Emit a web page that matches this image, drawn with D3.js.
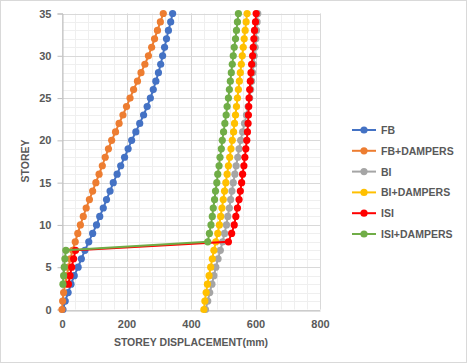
<!DOCTYPE html>
<html lang="en">
<head>
<meta charset="UTF-8">
<title>Storey displacement</title>
<script src="https://d3js.org/d3.v7.min.js"></script>
<style>
    body { margin: 0; background: #fff; }
    svg { font-family: "Liberation Sans", Arial, sans-serif; }
</style>
</head>
<body>
<div id="chart"></div>
<script>
    const width = 468;
    const height = 364;

    // storey numbers 0..35
    const storeys = d3.range(0, 36);

    const seriesNames = ["FB", "FB+DAMPERS", "BI", "BI+DAMPERS", "ISI", "ISI+DAMPERS"];
    const seriesColors = ["#4472C4", "#ED7D31", "#A5A5A5", "#FFC000", "#FF0000", "#70AD47"];

    // displacement (mm) per storey
    const fb = [3, 10, 19, 28, 38, 50, 60, 71, 83, 95, 107, 117, 128, 138, 149, 159, 171, 182, 194, 205,
        216, 229, 241, 253, 264, 274, 283, 291, 299, 306, 312, 318, 324, 330, 337, 343];
    const fbDampers = [0, 2, 5, 10, 15, 20, 26, 33, 41, 49, 57, 66, 75, 85, 95, 105, 115, 125, 134, 144,
        154, 166, 177, 189, 200, 211, 222, 234, 245, 257, 268, 278, 287, 296, 305, 314];
    const bi = [445, 452, 458, 465, 471, 477, 484, 491, 498, 504, 510, 514, 519, 523, 527, 531, 536, 540, 545, 549,
        554, 560, 566, 572, 577, 582, 585, 588, 591, 594, 596, 599, 601, 603, 605, 607];
    const biDampers = [440, 443, 447, 451, 456, 461, 466, 471, 477, 483, 488, 492, 496, 500, 504, 508, 512, 516, 520, 524,
        528, 532, 535, 538, 541, 544, 547, 550, 553, 556, 559, 562, 565, 568, 571, 574];
    const isi = [null, null, null, 20, 25, 30, 36, 42, 516, 526, 534, 539, 544, 549, 553, 557, 560, 564, 567, 570,
        573, 575, 577, 578, 579, 580, 582, 584, 586, 588, 591, 593, 595, 597, 600, 602];
    const isiDampers = [null, null, null, 3, 5, 7, 9, 12, 452, 457, 462, 466, 469, 473, 476, 480, 483, 487, 490, 494,
        497, 501, 505, 509, 512, 516, 519, 522, 525, 528, 531, 534, 538, 541, 544, 547];

    const xTicks = [0, 200, 400, 600, 800];
    const yTicks = [0, 5, 10, 15, 20, 25, 30, 35];

    const allSeries = [fb, fbDampers, bi, biDampers, isi, isiDampers];

    const svg = d3.select("#chart")
        .append("svg")
        .attr("width", width)
        .attr("height", height);

    // outer chart border
    svg.append("rect")
        .attr("x", 0.5).attr("y", 0.5)
        .attr("width", width - 2).attr("height", height - 2)
        .attr("fill", "#fff")
        .attr("stroke", "#d9d9d9");

    const x = d3.scaleLinear().domain([0, 800]).range([62, 320]);
    const y = d3.scaleLinear().domain([0, 35]).range([309.5, 13.5]);

    // minor gridlines
    const grid = svg.append("g");
    grid.selectAll(".vminor")
        .data(d3.range(0, 801, 40))
        .enter().append("line")
        .attr("x1", d => Math.round(x(d)) + 0.5).attr("x2", d => Math.round(x(d)) + 0.5)
        .attr("y1", y(35)).attr("y2", y(0))
        .attr("stroke", "#efefef");
    grid.selectAll(".hminor")
        .data(d3.range(0, 36, 1))
        .enter().append("line")
        .attr("y1", d => Math.round(y(d)) + 0.5).attr("y2", d => Math.round(y(d)) + 0.5)
        .attr("x1", x(0)).attr("x2", x(800))
        .attr("stroke", "#efefef");

    // major gridlines
    grid.selectAll(".vmajor")
        .data(xTicks)
        .enter().append("line")
        .attr("x1", d => Math.round(x(d)) + 0.5).attr("x2", d => Math.round(x(d)) + 0.5)
        .attr("y1", y(35)).attr("y2", y(0))
        .attr("stroke", "#d9d9d9");
    grid.selectAll(".hmajor")
        .data(yTicks)
        .enter().append("line")
        .attr("y1", d => Math.round(y(d)) + 0.5).attr("y2", d => Math.round(y(d)) + 0.5)
        .attr("x1", x(0)).attr("x2", x(800))
        .attr("stroke", "#d9d9d9");

    // axes
    const xAxis = svg.append("g")
        .attr("transform", `translate(0,${Math.round(y(0)) + 0.5})`)
        .call(d3.axisBottom(x).tickValues(xTicks).tickSize(0).tickPadding(10));
    const yAxis = svg.append("g")
        .attr("transform", `translate(${Math.round(x(0)) + 0.5},0)`)
        .call(d3.axisLeft(y).tickValues(yTicks).tickSize(5).tickPadding(6));

    [xAxis, yAxis].forEach(a => {
        a.select(".domain").attr("stroke", "#bfbfbf");
        a.selectAll(".tick line").attr("stroke", "#bfbfbf");
        a.selectAll("text")
            .attr("fill", "#595959")
            .attr("font-size", 11)
            .attr("font-weight", "bold")
            .attr("font-family", "'Liberation Sans', Arial, sans-serif");
    });

    // axis titles
    svg.append("text")
        .attr("x", 191).attr("y", 346)
        .attr("text-anchor", "middle")
        .attr("font-size", 10.5).attr("font-weight", "bold")
        .attr("fill", "#595959")
        .text("STOREY DISPLACEMENT(mm)");
    svg.append("text")
        .attr("transform", "translate(29,161) rotate(-90)")
        .attr("text-anchor", "middle")
        .attr("font-size", 10.5).attr("font-weight", "bold")
        .attr("fill", "#595959")
        .text("STOREY");

    // series
    const line = d3.line()
        .defined(d => d.v !== null)
        .x(d => x(d.v))
        .y(d => y(d.s));

    allSeries.forEach((vals, i) => {
        const pts = storeys.map((s, k) => ({ s: s, v: vals[k] }));
        const g = svg.append("g");
        g.append("path")
            .datum(pts)
            .attr("d", line)
            .attr("fill", "none")
            .attr("stroke", seriesColors[i])
            .attr("stroke-width", 2);
        g.selectAll("circle")
            .data(pts.filter(d => d.v !== null))
            .enter().append("circle")
            .attr("cx", d => x(d.v))
            .attr("cy", d => y(d.s))
            .attr("r", 3.6)
            .attr("fill", seriesColors[i]);
    });

    // legend
    const legend = svg.append("g");
    const legendY = d3.scaleLinear().domain([0, 5]).range([130, 234]);
    seriesNames.forEach((name, i) => {
        const ly = legendY(i);
        legend.append("line")
            .attr("x1", 352).attr("x2", 376)
            .attr("y1", ly).attr("y2", ly)
            .attr("stroke", seriesColors[i]).attr("stroke-width", 2);
        legend.append("circle")
            .attr("cx", 364).attr("cy", ly).attr("r", 3.6)
            .attr("fill", seriesColors[i]);
        legend.append("text")
            .attr("x", 381).attr("y", ly + 4)
            .attr("font-size", 10.5).attr("font-weight", "bold")
            .attr("fill", "#595959")
            .text(name);
    });
</script>
</body>
</html>
